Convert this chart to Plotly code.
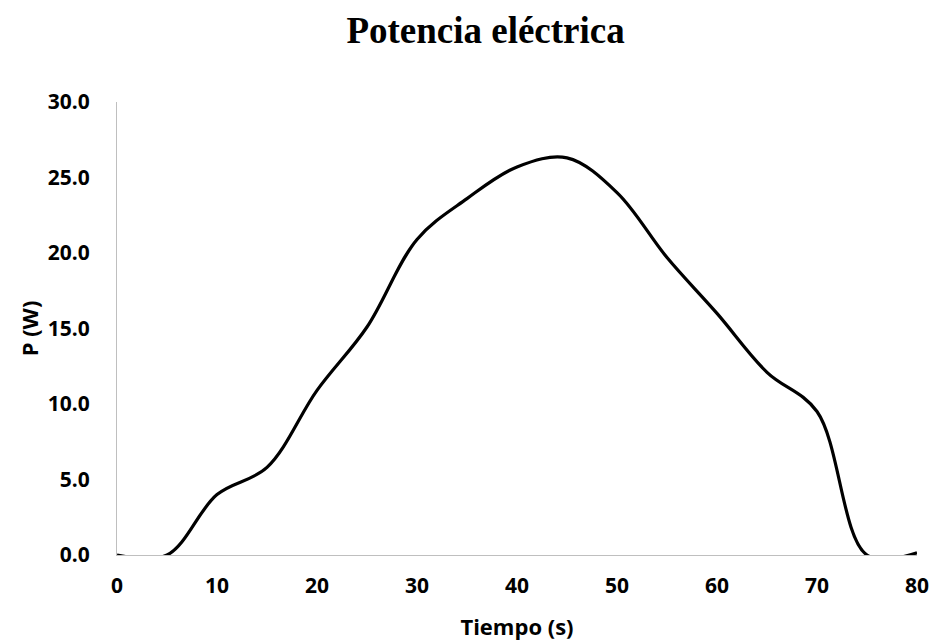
import plotly.graph_objects as go

# Electrical power measured every 5 seconds
tiempo_s = [0, 5, 10, 15, 20, 25, 30, 35, 40, 45, 50, 55, 60, 65, 70, 75, 80]
potencia_w = [0.0, 0.0, 4.0, 5.8, 10.9, 15.1, 20.9, 23.6, 25.7, 26.3, 24.0, 19.7, 16.0, 12.1, 9.5, 0.0, 0.15]

y_ticks = [0, 5, 10, 15, 20, 25, 30]
x_ticks = [0, 10, 20, 30, 40, 50, 60, 70, 80]

tick_font = dict(family="Open Sans", size=21, color="#000000")
title_font = dict(family="Open Sans", size=22, color="#000000")

fig = go.Figure(
    go.Scatter(
        x=tiempo_s,
        y=potencia_w,
        mode="lines",
        line=dict(color="#000000", width=3.2, shape="spline", smoothing=1.0),
        hoverinfo="skip",
    )
)

fig.update_layout(
    width=932,
    height=644,
    margin=dict(l=117, r=15, t=102, b=89),
    paper_bgcolor="#ffffff",
    plot_bgcolor="#ffffff",
    showlegend=False,
    title=dict(
        text="<b>Potencia eléctrica</b>",
        x=0.521,
        xanchor="center",
        y=0.953,
        yanchor="middle",
        font=dict(family="Liberation Serif", size=37, color="#000000"),
    ),
)

fig.update_xaxes(
    range=[0, 80],
    tickvals=x_ticks,
    ticktext=[f"<b>{v}</b>" for v in x_ticks],
    tickfont=tick_font,
    showgrid=False,
    zeroline=False,
    showline=True,
    linecolor="#bfbfbf",
    linewidth=1,
    ticks="",
    automargin=False,
    ticklabelstandoff=12,
    title=dict(text="<b>Tiempo (s)</b>", font=title_font, standoff=21),
)

fig.update_yaxes(
    range=[0, 30],
    tickvals=y_ticks,
    ticktext=[f"<b>{v:.1f}</b>" for v in y_ticks],
    tickfont=tick_font,
    showgrid=False,
    zeroline=False,
    showline=True,
    linecolor="#bfbfbf",
    linewidth=1,
    ticks="",
    automargin=False,
    ticklabelstandoff=22,
    title=dict(text="<b>P (W)</b>", font=title_font, standoff=3),
)

fig.write_html("out.html")
